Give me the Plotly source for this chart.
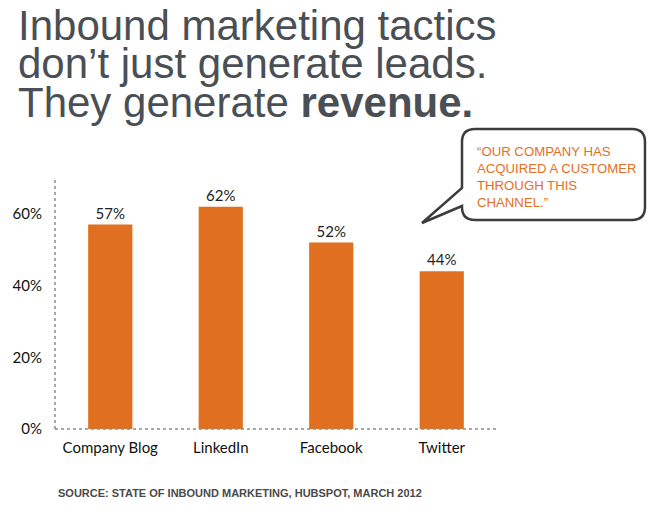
import plotly.graph_objects as go

# data
channels = ["Company Blog", "LinkedIn", "Facebook", "Twitter"]
pct_acquired = [57, 62, 52, 44]
bar_labels = ["57%", "62%", "52%", "44%"]
y_ticks = [0, 20, 40, 60]
y_tick_text = ["0%", "20%", "40%", "60%"]

ORANGE = "#E0701F"
TITLE_GREY = "#4A4F55"

W, H = 650, 513
PLOT_L, PLOT_R, PLOT_T, PLOT_B = 55, 497, 178, 429


def px(x, y):
    # pixel position on the page -> paper coords
    return (x - PLOT_L) / (PLOT_R - PLOT_L), (PLOT_B - y) / (PLOT_B - PLOT_T)


def bubble_path(left, top, right, bottom, r, tail_top, tail_tip, tail_bot):
    cmds = []

    def M(x, y):
        a, b = px(x, y)
        cmds.append(f"M {a:.4f},{b:.4f}")

    def L(x, y):
        a, b = px(x, y)
        cmds.append(f"L {a:.4f},{b:.4f}")

    def Q(cx, cy, x, y):
        a, b = px(cx, cy)
        c, d = px(x, y)
        cmds.append(f"Q {a:.4f},{b:.4f} {c:.4f},{d:.4f}")

    M(left + r, top)
    L(right - r, top)
    Q(right, top, right, top + r)
    L(right, bottom - r)
    Q(right, bottom, right - r, bottom)
    L(left + r, bottom)
    Q(left, bottom, left, bottom - r)
    L(left, tail_bot)
    L(*tail_tip)
    L(left, tail_top)
    L(left, top + r)
    Q(left, top, left + r, top)
    cmds.append("Z")
    return " ".join(cmds)


fig = go.Figure()
fig.add_trace(
    go.Bar(
        x=channels,
        y=pct_acquired,
        text=bar_labels,
        textposition="outside",
        textfont=dict(family="Lato", size=15, color="#222222"),
        marker=dict(color=ORANGE, line=dict(width=0)),
        width=0.4,
        cliponaxis=False,
        hoverinfo="skip",
    )
)

fig.update_layout(
    width=W,
    height=H,
    margin=dict(l=PLOT_L, r=W - PLOT_R, t=PLOT_T, b=H - PLOT_B),
    paper_bgcolor="white",
    plot_bgcolor="white",
    showlegend=False,
    xaxis=dict(
        range=[-0.5, 3.5],
        showgrid=False,
        zeroline=False,
        showline=False,
        ticks="",
        tickfont=dict(family="Lato", size=15, color="#111111"),
        ticklabelstandoff=8,
    ),
    yaxis=dict(
        range=[0, 70],
        tickvals=y_ticks,
        ticktext=y_tick_text,
        showgrid=False,
        zeroline=False,
        showline=False,
        ticks="",
        tickfont=dict(family="Lato", size=15, color="#111111"),
        ticklabelstandoff=12,
    ),
)

# dotted axes
fig.add_shape(type="line", xref="paper", yref="paper", x0=0, x1=0, y0=0, y1=1,
              line=dict(color="#8C8C8C", width=1.5, dash="dot"))
fig.add_shape(type="line", xref="paper", yref="paper", x0=0, x1=1, y0=0, y1=0,
              line=dict(color="#8C8C8C", width=1.5, dash="dot"))

# speech bubble
fig.add_shape(
    type="path",
    xref="paper",
    yref="paper",
    path=bubble_path(462, 129, 645, 220, 13, 188, (422, 223), 206),
    line=dict(color="#3C3C3C", width=2.5),
    fillcolor="white",
)

bx, by = px(475, 142)
fig.add_annotation(
    xref="paper", yref="paper", x=bx, y=by, xanchor="left", yanchor="top",
    align="left", showarrow=False,
    text="\u201cOUR COMPANY HAS<br>ACQUIRED A CUSTOMER<br>THROUGH THIS<br>CHANNEL.\u201d",
    font=dict(family="Liberation Sans", size=13.2, color="#E2701F"),
)

# headline, one annotation per line to keep the tight leading
title_lines = [
    "Inbound marketing tactics",
    "don\u2019t just generate leads.",
    "They generate <b>revenue.</b>",
]
for i, line in enumerate(title_lines):
    tx, ty = px(16, 25 + i * 38.5)
    fig.add_annotation(
        xref="paper", yref="paper", x=tx, y=ty, xanchor="left", yanchor="middle",
        showarrow=False, text=line,
        font=dict(family="Liberation Sans", size=42, color=TITLE_GREY),
    )

sx, sy = px(56, 493)
fig.add_annotation(
    xref="paper", yref="paper", x=sx, y=sy, xanchor="left", yanchor="middle",
    showarrow=False,
    text="<b>SOURCE: STATE OF INBOUND MARKETING, HUBSPOT, MARCH 2012</b>",
    font=dict(family="Liberation Sans", size=11, color="#4A4A4A"),
)

# page body has an 8px default margin; drop it so the figure sits at the corner
fig.write_html(
    "out.html",
    config={"displayModeBar": False},
    post_script="document.body.style.margin='0';",
)
